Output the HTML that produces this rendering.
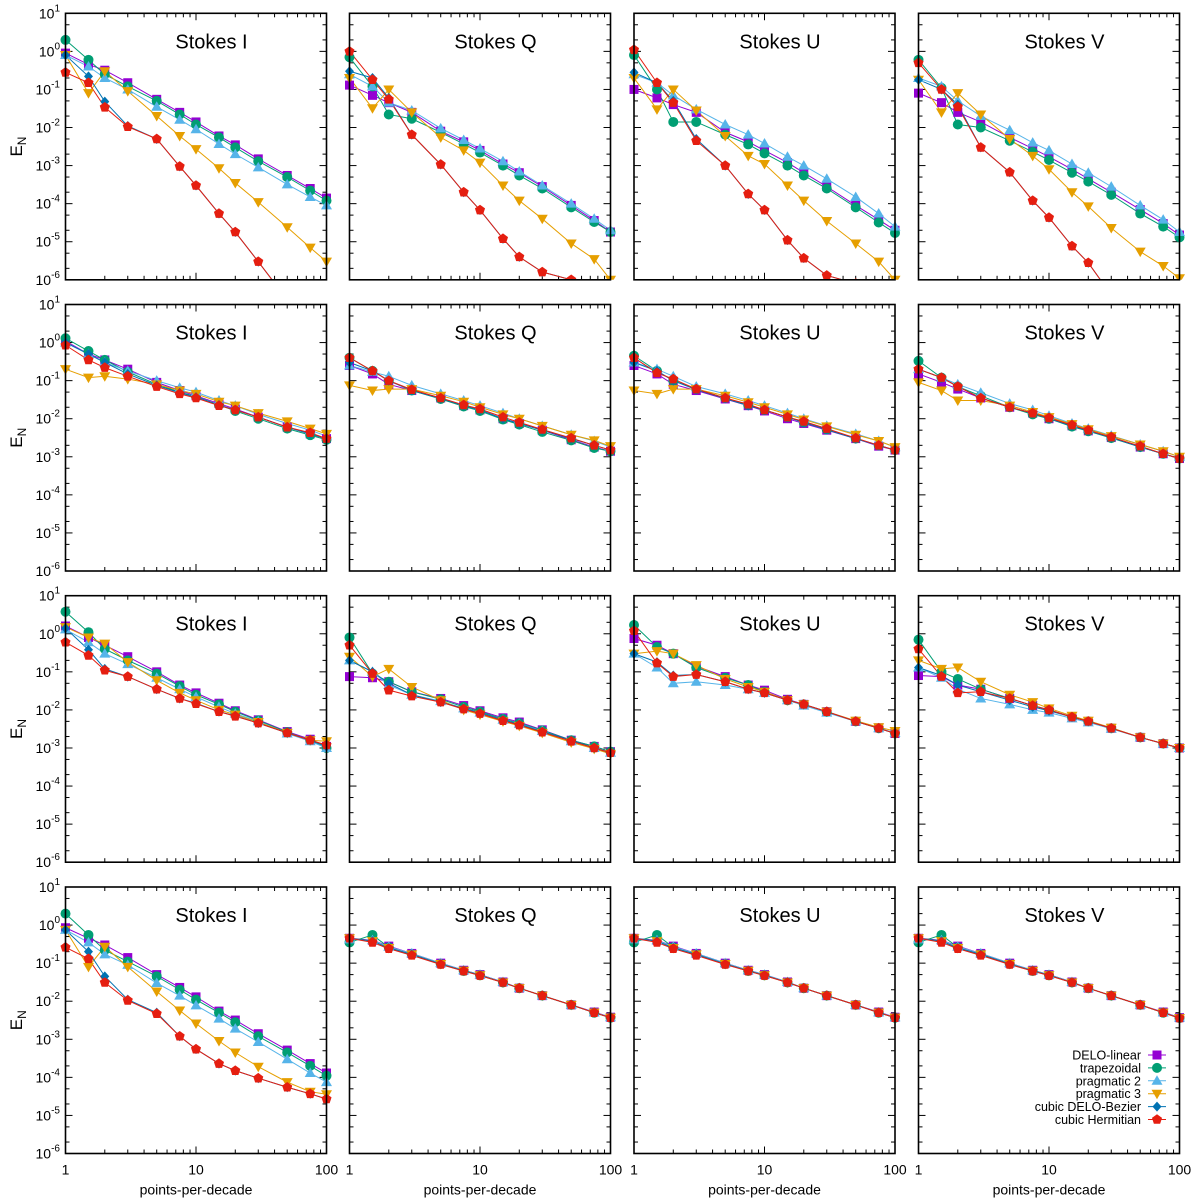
<!DOCTYPE html>
<html><head><meta charset="utf-8"><style>
html,body{margin:0;padding:0;background:#fff}
svg{display:block;font-family:"Liberation Sans",sans-serif}
</style></head><body>
<svg id="chart" width="1200" height="1201" viewBox="0 0 1200 1201" xmlns="http://www.w3.org/2000/svg"></svg>
<script>
// x values: points-per-decade
const xValues = [1,1.5,2,3,5,7.5,10,15,20,30,50,75,100];
const seriesNames = ["DELO-linear","trapezoidal","pragmatic 2","pragmatic 3","cubic DELO-Bezier","cubic Hermitian"];
const stokesLabels = ["Stokes I","Stokes Q","Stokes U","Stokes V"];
const yTickExps = [1,0,-1,-2,-3,-4,-5,-6];
const xTickLabels = [1,10,100];
// each panel: [DL, TR, P2, P3, CB, CH]
const r1I = [
 [0.9,0.45,0.32,0.15,0.055,0.025,0.014,0.006,0.0035,0.0015,5.5e-4,2.5e-4,1.4e-4],
 [2,0.6,0.25,0.12,0.05,0.022,0.012,0.0055,0.003,0.0013,5e-4,2.2e-4,1.2e-4],
 [0.8,0.4,0.2,0.1,0.035,0.016,0.009,0.0037,0.002,9e-4,3.2e-4,1.5e-4,9e-5],
 [0.8,0.08,0.3,0.09,0.02,0.006,0.0027,8.5e-4,3.5e-4,1.1e-4,2.4e-5,7e-6,3e-6],
 [0.8,0.22,0.048,0.011,0.005,9.5e-4,3e-4,5.5e-5,1.8e-5,3e-6,3e-7,8e-8,3e-8],
 [0.28,0.15,0.034,0.0105,0.005,9.5e-4,3e-4,5.5e-5,1.8e-5,3e-6,3e-7,8e-8,3e-8]];
const r1Q = [
 [0.13,0.07,0.045,0.025,0.008,0.0042,0.0025,0.0011,6.5e-4,2.8e-4,9e-5,3.6e-5,1.8e-5],
 [0.7,0.12,0.022,0.017,0.0075,0.0037,0.0022,0.001,5.5e-4,2.5e-4,8e-5,3.3e-5,1.8e-5],
 [0.25,0.12,0.045,0.028,0.0095,0.0047,0.0028,0.0013,7e-4,3e-4,1e-4,4e-5,2e-5],
 [0.2,0.032,0.1,0.025,0.0055,0.0025,0.0012,3e-4,1.2e-4,4e-5,9e-6,3.5e-6,1e-6],
 [0.3,0.2,0.06,0.0065,0.00107,2e-4,6.8e-5,1.2e-5,4e-6,1.6e-6,1e-6,7e-7,5e-7],
 [1.0,0.18,0.055,0.0065,0.00107,2e-4,6.8e-5,1.2e-5,4e-6,1.6e-6,1e-6,7e-7,5e-7]];
const r1U = [
 [0.1,0.06,0.04,0.025,0.0075,0.0042,0.0025,0.0012,6.5e-4,2.8e-4,9e-5,3.8e-5,2e-5],
 [0.8,0.1,0.014,0.014,0.0065,0.0036,0.0021,0.001,5.5e-4,2.5e-4,8e-5,3.2e-5,1.7e-5],
 [0.25,0.15,0.07,0.03,0.012,0.0065,0.0038,0.0017,0.001,4.5e-4,1.5e-4,5.5e-5,2.5e-5],
 [0.2,0.03,0.1,0.028,0.006,0.0018,0.0011,3e-4,1.2e-4,3.5e-5,9e-6,3e-6,1e-6],
 [0.28,0.15,0.05,0.005,0.001,1.8e-4,6.8e-5,1.1e-5,3.7e-6,1.3e-6,8e-7,6e-7,5e-7],
 [1.1,0.15,0.045,0.0045,0.001,1.8e-4,6.8e-5,1.1e-5,3.7e-6,1.3e-6,8e-7,6e-7,5e-7]];
const r1V = [
 [0.08,0.045,0.025,0.014,0.0055,0.0028,0.0017,8e-4,4.5e-4,2e-4,7e-5,3e-5,1.5e-5],
 [0.6,0.11,0.012,0.01,0.0045,0.0023,0.0014,6.5e-4,3.8e-4,1.7e-4,5.5e-5,2.5e-5,1.3e-5],
 [0.2,0.12,0.05,0.02,0.0085,0.004,0.0025,0.0011,6.5e-4,2.8e-4,9e-5,3.8e-5,1.8e-5],
 [0.18,0.025,0.08,0.022,0.005,0.0018,8e-4,2e-4,8.5e-5,2.3e-5,5.5e-6,2.3e-6,1.1e-6],
 [0.18,0.1,0.04,0.003,6.7e-4,1.2e-4,4.3e-5,7.7e-6,2.8e-6,4e-7,3e-8,1e-8,5e-9],
 [0.5,0.1,0.035,0.003,6.7e-4,1.2e-4,4.3e-5,7.7e-6,2.8e-6,4e-7,3e-8,1e-8,5e-9]];
const r2I = [
 [1.1,0.5,0.35,0.2,0.09,0.055,0.04,0.025,0.018,0.011,0.006,0.004,0.003],
 [1.3,0.6,0.35,0.17,0.08,0.05,0.038,0.023,0.016,0.01,0.0055,0.0037,0.0028],
 [1.0,0.5,0.3,0.18,0.1,0.065,0.05,0.03,0.022,0.013,0.0075,0.005,0.0035],
 [0.2,0.12,0.13,0.11,0.08,0.055,0.045,0.028,0.022,0.014,0.0085,0.0055,0.004],
 [1.0,0.5,0.3,0.15,0.075,0.048,0.037,0.023,0.017,0.011,0.006,0.004,0.003],
 [0.85,0.35,0.22,0.13,0.07,0.045,0.035,0.022,0.017,0.011,0.006,0.0043,0.003]];
const r2Q = [
 [0.25,0.15,0.08,0.055,0.035,0.022,0.017,0.01,0.0075,0.005,0.0028,0.0018,0.0014],
 [0.4,0.18,0.1,0.055,0.033,0.021,0.016,0.0095,0.007,0.0045,0.0027,0.0017,0.0014],
 [0.25,0.17,0.13,0.075,0.045,0.03,0.022,0.014,0.01,0.0065,0.0038,0.0026,0.0018],
 [0.075,0.055,0.06,0.06,0.04,0.028,0.02,0.013,0.01,0.0065,0.0038,0.0027,0.0019],
 [0.3,0.18,0.1,0.055,0.034,0.022,0.017,0.01,0.0075,0.005,0.003,0.002,0.0015],
 [0.4,0.18,0.1,0.058,0.035,0.023,0.018,0.011,0.008,0.0052,0.0031,0.002,0.0015]];
const r2U = [
 [0.25,0.15,0.08,0.055,0.033,0.022,0.016,0.01,0.0075,0.005,0.003,0.0019,0.0015],
 [0.45,0.18,0.1,0.06,0.035,0.023,0.017,0.011,0.008,0.0052,0.003,0.002,0.0015],
 [0.3,0.2,0.13,0.07,0.045,0.03,0.022,0.014,0.01,0.0065,0.004,0.0026,0.0018],
 [0.055,0.045,0.06,0.06,0.04,0.027,0.02,0.013,0.0095,0.0063,0.0038,0.0026,0.0018],
 [0.3,0.18,0.1,0.058,0.034,0.022,0.017,0.011,0.008,0.0052,0.003,0.002,0.0015],
 [0.4,0.16,0.11,0.06,0.035,0.024,0.017,0.011,0.0085,0.0055,0.0031,0.002,0.0015]];
const r2V = [
 [0.15,0.09,0.06,0.035,0.02,0.014,0.01,0.0065,0.0048,0.0032,0.0018,0.0012,0.0009],
 [0.33,0.12,0.07,0.04,0.02,0.013,0.01,0.0062,0.0047,0.0031,0.0018,0.0012,0.0009],
 [0.2,0.12,0.08,0.048,0.025,0.017,0.012,0.0075,0.0055,0.0036,0.0021,0.0014,0.001],
 [0.09,0.055,0.03,0.03,0.022,0.015,0.011,0.0072,0.0053,0.0035,0.0021,0.0014,0.001],
 [0.2,0.12,0.07,0.035,0.02,0.014,0.01,0.0065,0.0048,0.0032,0.0018,0.0012,0.0009],
 [0.2,0.12,0.07,0.035,0.02,0.014,0.0105,0.0068,0.005,0.0033,0.0019,0.0012,0.0009]];
const r3I = [
 [1.6,0.8,0.5,0.25,0.1,0.045,0.028,0.015,0.0095,0.0055,0.0027,0.0017,0.0011],
 [3.8,1.1,0.4,0.2,0.09,0.042,0.025,0.014,0.009,0.0053,0.0026,0.0016,0.001],
 [1.3,0.6,0.3,0.16,0.07,0.035,0.022,0.012,0.008,0.005,0.0024,0.0015,0.001],
 [1.5,0.8,0.55,0.18,0.06,0.028,0.018,0.01,0.0075,0.0048,0.0025,0.0016,0.0015],
 [1.4,0.38,0.12,0.075,0.035,0.02,0.015,0.009,0.007,0.0045,0.0025,0.0016,0.0011],
 [0.6,0.27,0.11,0.075,0.035,0.02,0.0145,0.009,0.0068,0.0045,0.0025,0.0016,0.0012]];
const r3Q = [
 [0.075,0.07,0.055,0.03,0.02,0.013,0.0095,0.0062,0.0048,0.003,0.0016,0.0011,0.0008],
 [0.8,0.09,0.055,0.03,0.019,0.012,0.009,0.0058,0.0045,0.0029,0.0016,0.0011,0.0008],
 [0.2,0.1,0.045,0.025,0.017,0.011,0.0085,0.0055,0.0043,0.0028,0.0015,0.001,0.00075],
 [0.25,0.075,0.12,0.04,0.018,0.01,0.0075,0.005,0.0038,0.0025,0.0014,0.00095,0.0007],
 [0.2,0.1,0.05,0.025,0.016,0.011,0.0085,0.0055,0.0042,0.0027,0.0016,0.001,0.00075],
 [0.5,0.09,0.033,0.023,0.016,0.0105,0.008,0.0052,0.004,0.0026,0.0015,0.001,0.00075]];
const r3U = [
 [0.75,0.5,0.3,0.14,0.075,0.045,0.033,0.019,0.014,0.009,0.005,0.0034,0.0024],
 [1.7,0.45,0.3,0.13,0.07,0.045,0.03,0.018,0.014,0.0088,0.005,0.0033,0.0024],
 [0.3,0.13,0.05,0.055,0.045,0.035,0.028,0.018,0.013,0.0085,0.005,0.0033,0.0025],
 [0.3,0.35,0.3,0.15,0.065,0.04,0.03,0.018,0.014,0.009,0.0052,0.0035,0.0028],
 [0.3,0.18,0.08,0.085,0.055,0.035,0.028,0.018,0.014,0.009,0.005,0.0033,0.0024],
 [1.2,0.17,0.075,0.085,0.055,0.035,0.028,0.018,0.014,0.009,0.005,0.0033,0.0024]];
const r3V = [
 [0.08,0.075,0.045,0.035,0.02,0.013,0.01,0.0065,0.005,0.0033,0.0019,0.0013,0.001],
 [0.7,0.1,0.065,0.035,0.02,0.013,0.01,0.0065,0.005,0.0033,0.0019,0.0013,0.001],
 [0.13,0.07,0.035,0.02,0.014,0.01,0.0085,0.006,0.0047,0.0032,0.0019,0.0013,0.001],
 [0.2,0.12,0.13,0.055,0.025,0.016,0.011,0.007,0.0052,0.0034,0.0019,0.0013,0.001],
 [0.13,0.08,0.045,0.03,0.018,0.012,0.0095,0.0065,0.005,0.0033,0.0019,0.0013,0.001],
 [0.4,0.075,0.028,0.03,0.02,0.013,0.01,0.0065,0.005,0.0033,0.0019,0.0013,0.001]];
const r4I = [
 [0.85,0.45,0.3,0.14,0.05,0.023,0.013,0.0055,0.0032,0.0014,5.2e-4,2.3e-4,1.3e-4],
 [2,0.55,0.22,0.11,0.045,0.02,0.011,0.005,0.0028,0.0012,4.5e-4,2e-4,1.1e-4],
 [0.75,0.35,0.17,0.09,0.03,0.014,0.0078,0.0035,0.0019,8.5e-4,3e-4,1.3e-4,7.5e-5],
 [0.75,0.08,0.27,0.08,0.018,0.0057,0.0026,9e-4,4.5e-4,1.9e-4,7.5e-5,4.2e-5,3.6e-5],
 [0.75,0.2,0.045,0.011,0.005,0.0012,5.5e-4,2.3e-4,1.5e-4,9.5e-5,5.5e-5,3.7e-5,2.7e-5],
 [0.26,0.13,0.031,0.0105,0.0047,0.0012,5.5e-4,2.3e-4,1.5e-4,9.5e-5,5.5e-5,3.7e-5,2.7e-5]];
const r4Q = [
 [0.45,0.4,0.28,0.18,0.1,0.065,0.05,0.032,0.022,0.014,0.008,0.0052,0.0038],
 [0.35,0.55,0.26,0.17,0.095,0.062,0.048,0.031,0.022,0.014,0.008,0.005,0.0037],
 [0.42,0.4,0.27,0.18,0.1,0.065,0.05,0.032,0.022,0.014,0.008,0.0051,0.0038],
 [0.45,0.38,0.25,0.17,0.095,0.063,0.048,0.031,0.022,0.014,0.008,0.005,0.0037],
 [0.45,0.38,0.25,0.17,0.095,0.063,0.048,0.031,0.022,0.014,0.008,0.005,0.0037],
 [0.45,0.35,0.24,0.16,0.092,0.062,0.047,0.031,0.022,0.014,0.008,0.005,0.0037]];
const r4U = [
 [0.45,0.4,0.28,0.18,0.1,0.065,0.05,0.032,0.022,0.014,0.008,0.0052,0.0038],
 [0.35,0.55,0.26,0.17,0.095,0.062,0.048,0.031,0.022,0.014,0.008,0.005,0.0037],
 [0.42,0.4,0.27,0.18,0.1,0.065,0.05,0.032,0.022,0.014,0.008,0.0051,0.0038],
 [0.45,0.38,0.25,0.17,0.095,0.063,0.048,0.031,0.022,0.014,0.008,0.005,0.0037],
 [0.45,0.38,0.25,0.17,0.095,0.063,0.048,0.031,0.022,0.014,0.008,0.005,0.0037],
 [0.45,0.35,0.24,0.16,0.092,0.062,0.047,0.031,0.022,0.014,0.008,0.005,0.0037]];
const r4V = [
 [0.45,0.4,0.28,0.18,0.1,0.065,0.05,0.032,0.022,0.014,0.008,0.0052,0.0037],
 [0.35,0.55,0.26,0.17,0.095,0.062,0.048,0.031,0.022,0.014,0.008,0.005,0.0036],
 [0.42,0.4,0.27,0.18,0.1,0.065,0.05,0.032,0.022,0.014,0.008,0.0051,0.0037],
 [0.45,0.38,0.25,0.17,0.095,0.063,0.048,0.031,0.022,0.014,0.008,0.005,0.0036],
 [0.45,0.38,0.25,0.17,0.095,0.063,0.048,0.031,0.022,0.014,0.008,0.005,0.0036],
 [0.45,0.35,0.24,0.16,0.092,0.062,0.047,0.031,0.022,0.014,0.008,0.005,0.0036]];
const panelData = [[r1I,r1Q,r1U,r1V],[r2I,r2Q,r2U,r2V],[r3I,r3Q,r3U,r3V],[r4I,r4Q,r4U,r4V]];

const colors = ["#9400d3","#009e73","#56b4e9","#e69f00","#0072b2","#e51e10"];
const shapes = ["square","circle","tri-up","tri-down","diamond","pentagon"];
const seriesKeys = ["delo-linear","trapezoidal","pragmatic-2","pragmatic-3","cubic-delo-bezier","cubic-hermitian"];
const lefts = [65.5,349.5,634,918.5], tops = [13.3,304.5,595.7,887];
const PW = 261, PH = 266.5;
const NS = "http://www.w3.org/2000/svg";
const svg = document.getElementById("chart");
function mk(tag, attrs, parent){const e=document.createElementNS(NS,tag);for(const k in attrs)e.setAttribute(k,attrs[k]);(parent||svg).appendChild(e);return e;}
function xScale(v,l){return l+Math.log10(v)/2*PW;}
function yScale(v,t){return t+(1-Math.log10(v))/7*PH;}
function marker(g,shape,x,y,c){
  let e;
  if(shape==="square") e=mk("rect",{x:x-4.5,y:y-4.5,width:9,height:9,fill:c},g);
  else if(shape==="circle") e=mk("circle",{cx:x,cy:y,r:5,fill:c},g);
  else if(shape==="tri-up") e=mk("polygon",{points:`${x},${y-5.5} ${x+5.5},${y+4} ${x-5.5},${y+4}`,fill:c},g);
  else if(shape==="tri-down") e=mk("polygon",{points:`${x},${y+5.5} ${x+5.5},${y-4} ${x-5.5},${y-4}`,fill:c},g);
  else if(shape==="diamond") e=mk("polygon",{points:`${x},${y-5} ${x+4.5},${y} ${x},${y+5} ${x-4.5},${y}`,fill:c},g);
  else { let p=[];for(let i=0;i<5;i++){const a=-Math.PI/2+i*2*Math.PI/5;p.push((x+5.3*Math.cos(a)).toFixed(2)+","+(y+5.3*Math.sin(a)).toFixed(2));} e=mk("polygon",{points:p.join(" "),fill:c},g);}
  return e;
}
const defs = mk("defs",{});
for(let r=0;r<4;r++)for(let c=0;c<4;c++){
  const l=lefts[c], t=tops[r];
  const cp=mk("clipPath",{id:`clip${r}${c}`},defs);
  mk("rect",{x:l-7,y:t,width:PW+14,height:PH},cp);
  const g=mk("g",{});
  
  
  // ticks
  for(let d=0;d<2;d++)for(let m=1;m<=9;m++){
    if(d===0&&m===1)continue;
    const v=Math.pow(10,d)*m, x=xScale(v,l), len=(m===1)?7:4;
    mk("line",{x1:x,y1:t+PH,x2:x,y2:t+PH-len,stroke:"#000","stroke-width":1},g);
    mk("line",{x1:x,y1:t,x2:x,y2:t+len,stroke:"#000","stroke-width":1},g);
  }
  for(let e=-6;e<=1;e++){
    for(const m of [1,2,5]){
      if(e===1&&m!==1)continue;
      const v=m*Math.pow(10,e), y=yScale(v,t), len=(m===1)?7:4;
      mk("line",{x1:l,y1:y,x2:l+len,y2:y,stroke:"#000","stroke-width":1},g);
      mk("line",{x1:l+PW,y1:y,x2:l+PW-len,y2:y,stroke:"#000","stroke-width":1},g);
    }
  }
  // series
  const sg=mk("g",{"clip-path":`url(#clip${r}${c})`},g);
  const data=panelData[r][c];
  for(let s=0;s<6;s++){
    const pts=xValues.map((xv,i)=>xScale(xv,l).toFixed(2)+","+yScale(data[s][i],t).toFixed(2)).join(" ");
    const pl=mk("polyline",{points:pts,fill:"none",stroke:colors[s],"stroke-width":1},sg);
    
    
  }
  for(let s=0;s<6;s++){
    xValues.forEach((xv,i)=>{
      const y=yScale(data[s][i],t); if(y>t+PH+6) return;
      const m=marker(sg,shapes[s],xScale(xv,l),y,colors[s]);
      
      
    });
  }
  const fr=mk("rect",{x:l,y:t,width:PW,height:PH,fill:"none",stroke:"#000","stroke-width":1.6},g);
  
  
  const ti=mk("text",{x:l+146,y:t+35,"font-size":20,"text-anchor":"middle",fill:"#000"},g);
  ti.textContent=stokesLabels[c];
  
  
  if(c===0){
    yTickExps.forEach(e=>{
      const y=yScale(Math.pow(10,e),t);
      const tx=mk("text",{x:60,y:y+5,"font-size":14,"text-anchor":"end",fill:"#000"},g);
      const a=mk("tspan",{},tx);a.textContent="10";
      const b=mk("tspan",{"font-size":10,dy:-7},tx);b.textContent=String(e);
      
      
    });
    const yl=mk("text",{x:0,y:0,"font-size":17,"text-anchor":"middle",transform:`translate(22,${t+PH/2}) rotate(-90)`},g);
    const a=mk("tspan",{},yl);a.textContent="E";
    const b=mk("tspan",{"font-size":12,dy:4},yl);b.textContent="N";
    
    
  }
  if(r===3){
    xTickLabels.forEach(v=>{
      const tx=mk("text",{x:xScale(v,l),y:t+PH+21,"font-size":14,"text-anchor":"middle"},g);
      tx.textContent=String(v);
      
      
    });
    const xl=mk("text",{x:l+PW/2,y:t+PH+41,"font-size":14,"text-anchor":"middle"},g);
    xl.textContent="points-per-decade";
    
    
  }
}
// legend
const lg=mk("g",{});


seriesNames.forEach((n,s)=>{
  const y=1055+s*12.9;
  const e=mk("g",{},lg);
  
  
  const tx=mk("text",{x:1141,y:y+4.5,"font-size":12.5,"text-anchor":"end"},e);
  tx.textContent=n;
  mk("line",{x1:1148,y1:y,x2:1166,y2:y,stroke:colors[s],"stroke-width":1},e);
  marker(e,shapes[s],1157,y,colors[s]);
});
</script>
</body></html>
